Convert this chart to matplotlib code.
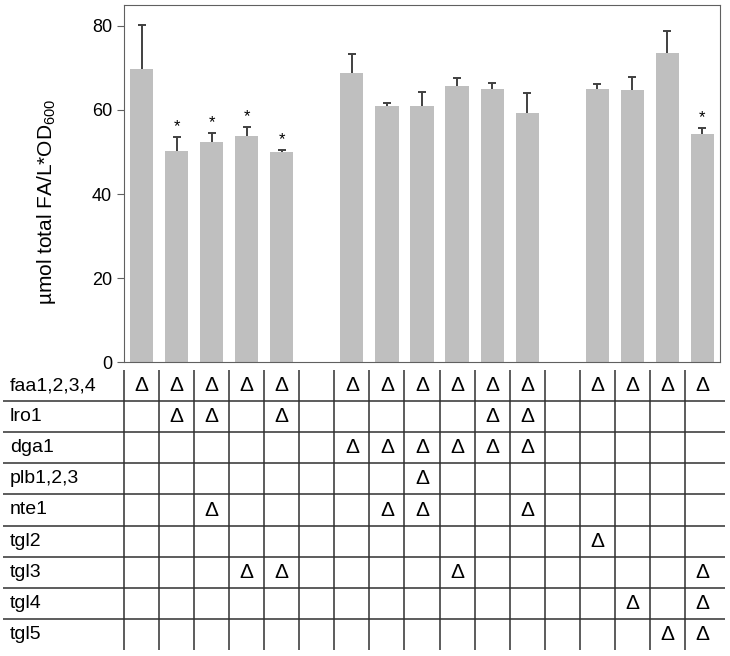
import numpy as np
import matplotlib
matplotlib.use('Agg')
import matplotlib.pyplot as plt

plt.rcParams['font.family'] = ['Liberation Sans', 'DejaVu Sans']
plt.rcParams['mathtext.default'] = 'regular'

# bar data (slot positions, gaps at 6 and 13)
positions = [1, 2, 3, 4, 5, 7, 8, 9, 10, 11, 12, 14, 15, 16, 17]
values = [69.7, 50.2, 52.4, 53.7, 50.0, 68.7, 60.9, 61.0, 65.6, 65.0, 59.3,
          65.0, 64.8, 73.5, 54.2]
errors = [10.6, 3.3, 2.1, 2.3, 0.4, 4.6, 0.8, 3.3, 2.0, 1.4, 4.7,
          1.2, 3.1, 5.2, 1.5]
significant = [2, 3, 4, 5, 17]

# deletion table
genes = ['faa1,2,3,4', 'lro1', 'dga1', 'plb1,2,3', 'nte1',
         'tgl2', 'tgl3', 'tgl4', 'tgl5']
deleted = {
    'faa1,2,3,4': [1, 2, 3, 4, 5, 7, 8, 9, 10, 11, 12, 14, 15, 16, 17],
    'lro1': [2, 3, 5, 11, 12],
    'dga1': [7, 8, 9, 10, 11, 12],
    'plb1,2,3': [9],
    'nte1': [3, 8, 9, 12],
    'tgl2': [14],
    'tgl3': [4, 5, 10, 17],
    'tgl4': [15, 17],
    'tgl5': [16, 17],
}
n_slots = 17

W, H = 730, 656
fig = plt.figure(figsize=(W / 100, H / 100), dpi=100)

# bar axes, pixel box
ax_l, ax_r, ax_t, ax_b = 124, 720, 5, 362
ax = fig.add_axes([ax_l / W, 1 - ax_b / H, (ax_r - ax_l) / W, (ax_b - ax_t) / H])
ax.bar(positions, values, width=0.66, color='#bfbfbf', zorder=2)
eb = ax.errorbar(positions, values, yerr=[np.zeros(len(errors)), errors], fmt='none',
                 ecolor='#404040', elinewidth=1.4, capsize=3, capthick=1.4, zorder=3)
# upper error only: drop the cap sitting on the bar top
for cl in eb[1]:
    if np.allclose(cl.get_ydata(), values):
        cl.remove()
for p in significant:
    i = positions.index(p)
    ax.annotate('*', (p, values[i] + errors[i]), xytext=(0, 2),
                textcoords='offset points', ha='center', va='bottom', fontsize=12)
ax.set_xlim(0.5, n_slots + 0.5)
ax.set_ylim(0, 85)
ax.set_yticks([0, 20, 40, 60, 80])
ax.set_xticks([])
ax.tick_params(axis='y', labelsize=13, direction='out', length=5, color='#606060')
for s in ax.spines.values():
    s.set_color('#606060')
ax.set_ylabel('µmol total FA/L*OD$_{600}$', fontsize=15)
ax.yaxis.set_label_coords(-0.11, 0.45)

# table axes aligned with bar slots
px_per_unit = (ax_r - ax_l) / n_slots
tl, tr, tt, tb = 3, 725, 370, 650
tab = fig.add_axes([tl / W, 1 - tb / H, (tr - tl) / W, (tb - tt) / H])
tab.set_xlim(0.5 - (ax_l - tl) / px_per_unit, n_slots + 0.5 + (tr - ax_r) / px_per_unit)
tab.set_ylim(len(genes), 0)
tab.axis('off')

for k in range(n_slots):
    tab.plot([k + 0.5, k + 0.5], [0, len(genes)], color='#303030', lw=1.1)
x0, x1 = tab.get_xlim()
for r in range(1, len(genes)):
    tab.plot([x0, x1], [r, r], color='#303030', lw=1.1)

for r, g in enumerate(genes):
    tab.text(x0 + 7 / px_per_unit, r + 0.5, g, ha='left', va='center', fontsize=14)
    for c in deleted[g]:
        tab.text(c, r + 0.5, 'Δ', ha='center', va='center', fontsize=15)

fig.savefig('out.png', dpi=100)
